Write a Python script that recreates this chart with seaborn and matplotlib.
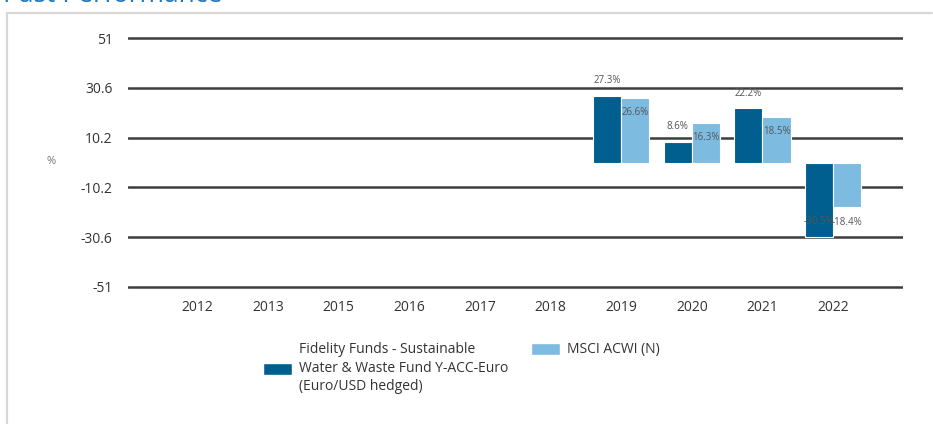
import numpy as np
import pandas as pd
import matplotlib
matplotlib.use("Agg")
import matplotlib.pyplot as plt
from matplotlib.lines import Line2D
from matplotlib.patches import Patch
import seaborn as sns

# data
years = ['2012', '2013', '2015', '2016', '2017', '2018', '2019', '2020', '2021', '2022']
fund = [np.nan, np.nan, np.nan, np.nan, np.nan, np.nan, 27.3, 8.6, 22.2, -30.5]
bench = [np.nan, np.nan, np.nan, np.nan, np.nan, np.nan, 26.6, 16.3, 18.5, -18.4]
y_ticks = [-51, -30.6, -10.2, 10.2, 30.6, 51]
fund_name = 'Fidelity Funds - Sustainable\nWater & Waste Fund Y-ACC-Euro\n(Euro/USD hedged)'
bench_name = 'MSCI ACWI (N)'

dark_blue = '#005f8e'
light_blue = '#7dbbe1'

df = pd.DataFrame({
    'year': years * 2,
    'value': fund + bench,
    'series': [fund_name] * len(years) + [bench_name] * len(years),
})

sns.set_style('white')
plt.rcParams['font.family'] = ['Open Sans', 'DejaVu Sans']

W, H = 933, 424
fig = plt.figure(figsize=(W / 100, H / 100), dpi=100)

# axes placement in pixels
ax_left, ax_right = 128, 903
ymin, ymax = -53, 53
px_per_unit = 249 / 102
ax_top = 38 - (ymax - 51) * px_per_unit
ax_bottom = 287 + (-51 - ymin) * px_per_unit
ax = fig.add_axes([ax_left / W, 1 - ax_bottom / H,
                   (ax_right - ax_left) / W, (ax_bottom - ax_top) / H])

sns.barplot(data=df, x='year', y='value', hue='series', order=years,
            hue_order=[fund_name, bench_name],
            palette=[dark_blue, light_blue], saturation=1, width=0.8,
            edgecolor='white', linewidth=0.8, errorbar=None,
            legend=False, ax=ax, zorder=3)

ax.set_ylim(ymin, ymax)
ax.set_xlim(-0.98, 9.99)
ax.set_yticks(y_ticks)
ax.set_yticklabels(['-51', '-30.6', '-10.2', '10.2', '30.6', '51'])
for y in y_ticks:
    ax.axhline(y, color='#3d3d3d', lw=1.8, zorder=1)
ax.tick_params(axis='y', length=0, pad=11, labelsize=10, labelcolor='#333333')
ax.tick_params(axis='x', length=0, pad=6, labelsize=10, labelcolor='#333333')
ax.set_xlabel('')
ax.set_ylabel('')
sns.despine(ax=ax, left=True, bottom=True)

# value labels: fund above the bar end, benchmark below it
offsets = [11, -10.5]
for cont, off in zip(ax.containers, offsets):
    for bar in cont:
        h = bar.get_height()
        if np.isnan(h):
            continue
        ax.annotate(f'{h:.1f}%', (bar.get_x() + bar.get_width() / 2, h),
                    xytext=(0, off), textcoords='offset points',
                    ha='center', va='center',
                    fontsize=7, color='#555555', zorder=5)

fig.text(51 / W, 1 - 162 / H, '%', fontsize=8, color='#777777', ha='center', va='center')

# legend, two separate blocks like the reference
leg1 = fig.legend(handles=[Patch(facecolor=dark_blue, edgecolor='white')],
                  labels=[fund_name], loc='center left',
                  bbox_to_anchor=(263 / W, 1 - 368 / H), frameon=False,
                  fontsize=10, handlelength=2.1, handleheight=1.0,
                  handletextpad=0.5, borderpad=0, borderaxespad=0)
for t in leg1.get_texts():
    t.set_color('#333333')
    t.set_linespacing(1.35)
leg2 = fig.legend(handles=[Patch(facecolor=light_blue, edgecolor='white')],
                  labels=[bench_name], loc='center left',
                  bbox_to_anchor=(531 / W, 1 - 350 / H), frameon=False,
                  fontsize=10, handlelength=2.1, handleheight=1.0,
                  handletextpad=0.5, borderpad=0, borderaxespad=0)
for t in leg2.get_texts():
    t.set_color('#333333')

# panel frame and title, cut at the top edge as in the reference
fig.add_artist(Line2D([7 / W, 932 / W], [1 - 13 / H, 1 - 13 / H], color='#d8d8d8', lw=1.6))
fig.add_artist(Line2D([7 / W, 7 / W], [1 - 13 / H, 0], color='#d8d8d8', lw=1.6))
fig.text(3 / W, 1 - 2 / H, 'Past Performance', fontsize=19, color='#1f78bd',
         ha='left', va='baseline')

fig.savefig('out.png', dpi=100)
